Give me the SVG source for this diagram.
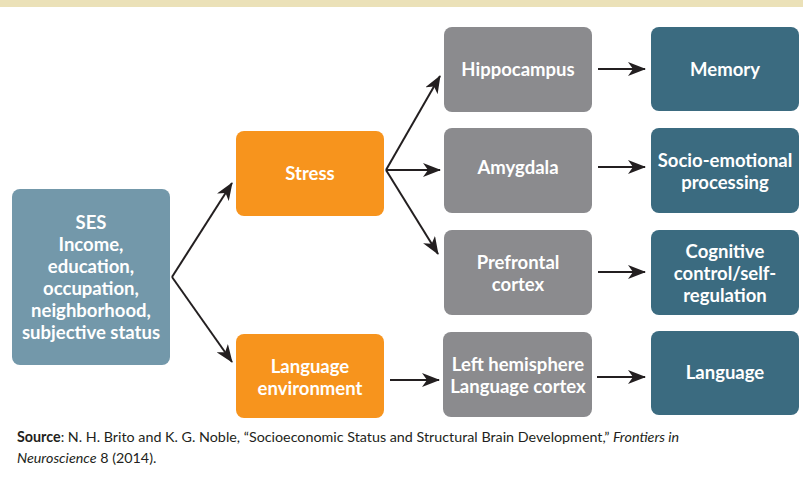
<svg xmlns="http://www.w3.org/2000/svg" width="803" height="479" viewBox="0 0 803 479">
<style>
.t{font-family:Lato,"Open Sans","Liberation Sans",sans-serif;font-weight:bold;font-size:18.5px;fill:#fff;text-anchor:middle}
.ses{fill:#7398aa}.or{fill:#f7941d}.gr{fill:#8b8b8e}.tl{fill:#3b6b80}
.c{stroke:#231f20;stroke-width:2;fill:none;marker-end:url(#ah)}
.cap{font-family:Lato,"Liberation Sans",sans-serif;font-size:14.3px;fill:#231f20}
</style>
<defs>
<marker id="ah" viewBox="0 0 18 14" refX="17" refY="7" markerWidth="18" markerHeight="14" markerUnits="userSpaceOnUse" orient="auto">
<path d="M0,0 L18,7 L0,14 L5,7 Z" fill="#231f20"/>
</marker>
</defs>
<rect x="0" y="0" width="803" height="7" fill="#ebe1b8"/>
<g id="ses"><rect class="ses" x="12" y="189" width="158" height="176" rx="8"/>
<text class="t"><tspan x="91" y="229">SES</tspan><tspan x="91" y="251">Income,</tspan><tspan x="91" y="273">education,</tspan><tspan x="91" y="295">occupation,</tspan><tspan x="91" y="317">neighborhood,</tspan><tspan x="91" y="339">subjective status</tspan></text></g>
<g id="stress"><rect class="or" x="236" y="131" width="148" height="85" rx="8"/><text class="t" x="310" y="180">Stress</text></g>
<g id="langenv"><rect class="or" x="236" y="334" width="148" height="84" rx="8"/><text class="t"><tspan x="310" y="373">Language</tspan><tspan x="310" y="395">environment</tspan></text></g>
<g id="hippo"><rect class="gr" x="444" y="27" width="148" height="85" rx="8"/><text class="t" x="518" y="76">Hippocampus</text></g>
<g id="amyg"><rect class="gr" x="444" y="128" width="148" height="85" rx="8"/><text class="t" x="518" y="174">Amygdala</text></g>
<g id="pfc"><rect class="gr" x="444" y="230" width="148" height="85" rx="8"/><text class="t"><tspan x="518" y="269">Prefrontal</tspan><tspan x="518" y="291">cortex</tspan></text></g>
<g id="lh"><rect class="gr" x="443" y="332" width="149" height="85" rx="8"/><text class="t"><tspan x="518" y="371">Left hemisphere</tspan><tspan x="518" y="393">Language cortex</tspan></text></g>
<g id="memory"><rect class="tl" x="651" y="27" width="148" height="84" rx="8"/><text class="t" x="725" y="76">Memory</text></g>
<g id="socio"><rect class="tl" x="651" y="128" width="148" height="85" rx="8"/><text class="t"><tspan x="725" y="167">Socio-emotional</tspan><tspan x="725" y="189">processing</tspan></text></g>
<g id="cog"><rect class="tl" x="651" y="230" width="148" height="85" rx="8"/><text class="t"><tspan x="725" y="258">Cognitive</tspan><tspan x="725" y="280">control/self-</tspan><tspan x="725" y="302">regulation</tspan></text></g>
<g id="lang"><rect class="tl" x="651" y="331" width="148" height="84" rx="8"/><text class="t" x="725" y="379">Language</text></g>
<g id="connectors">
<path class="c" d="M172,277 L232,183"/>
<path class="c" d="M172,277 L232,362"/>
<path class="c" d="M386,170 L440,76"/>
<path class="c" d="M386,170 L440,170"/>
<path class="c" d="M386,170 L438,254"/>
<path class="c" d="M598,69 L645,69"/>
<path class="c" d="M598,167 L645,167"/>
<path class="c" d="M598,272 L645,272"/>
<path class="c" d="M597,377 L645,377"/>
<path class="c" d="M390,380 L439,380"/>
</g>
<text class="cap" x="17" y="442"><tspan font-weight="bold">Source</tspan>: N. H. Brito and K. G. Noble, “Socioeconomic Status and Structural Brain Development,” <tspan font-style="italic">Frontiers in</tspan></text>
<text class="cap" x="17" y="463"><tspan font-style="italic">Neuroscience</tspan> 8 (2014).</text>
</svg>
